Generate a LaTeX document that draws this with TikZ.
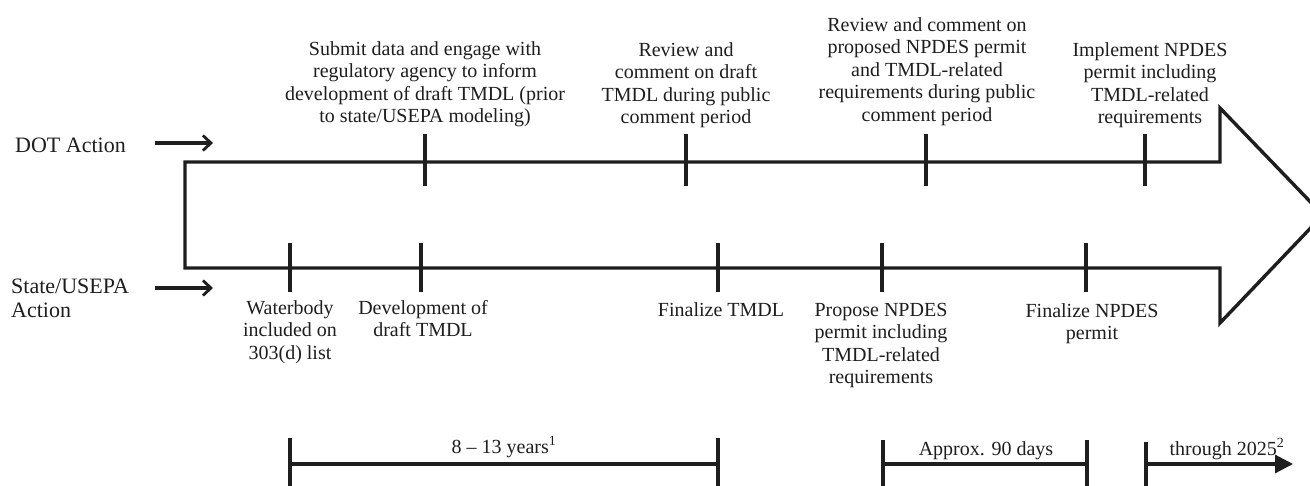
\documentclass[tikz,border=0pt]{standalone}
\usepackage{fontspec}
\setmainfont{Liberation Serif}
\usetikzlibrary{arrows.meta}
\definecolor{ink}{HTML}{1E1E1E}
\begin{document}
\begin{tikzpicture}[x=1pt,y=-1pt,
  lbl/.style={align=center, inner sep=0pt, text=ink, font=\fontsize{20}{22.5}\selectfont},
  side/.style={align=left, inner sep=0pt, text=ink, font=\fontsize{22}{23.5}\selectfont},
  tickline/.style={line width=3.2pt, draw=ink},
  frame/.style={line width=3.4pt, draw=ink, line join=miter},
  lead/.style={line width=3.2pt, draw=ink, -{Straight Barb[length=8pt,width=15pt,line width=2.8pt]}},
  spanline/.style={line width=3.2pt, draw=ink},
  spanarrow/.style={line width=3.2pt, draw=ink, -{Triangle[length=18pt,width=18pt]}},
]
\useasboundingbox (0,0) rectangle (1310,485);
\fill[white] (0,0) rectangle (1310,485);

% big arrow outline
\draw[frame] (185,162) -- (1220,162) -- (1220,108) -- (1323,215) -- (1220,323) -- (1220,268) -- (185,268) -- cycle;

% side labels and lead arrows
\node[side, anchor=base west] (dot) at (15,152) {DOT Action};
\node[side, anchor=north west] (state) at (11,279) {State/USEPA\\Action};
\coordinate (dotS) at (155,143);
\coordinate (dotE) at (213,143);
\coordinate (stS) at (155,288);
\coordinate (stE) at (213,288);
\draw[lead] (dotS) -- (dotE);
\draw[lead] (stS) -- (stE);

% top (DOT) ticks
\foreach \n/\x in {a/425,b/686,c/926,d/1145}{
  \coordinate (tt\n) at (\x,134);
  \coordinate (tb\n) at (\x,186);
  \draw[tickline] (tt\n) -- (tb\n);
}
% bottom (State) ticks
\foreach \n/\x in {a/290,b/421,c/718,d/882,e/1086}{
  \coordinate (bt\n) at (\x,243);
  \coordinate (bb\n) at (\x,292);
  \draw[tickline] (bt\n) -- (bb\n);
}

% top labels
\node[lbl, anchor=north] (d1) at (425,41) {Submit data and engage with\\regulatory agency to inform\\development of draft TMDL (prior\\to state/USEPA modeling)};
\node[lbl, anchor=north] (d2) at (686,42) {Review and\\comment on draft\\TMDL during public\\comment period};
\node[lbl, anchor=north] (d3) at (927,17) {Review and comment on\\proposed NPDES permit\\and TMDL-related\\requirements during public\\comment period};
\node[lbl, anchor=north] (d4) at (1150,42) {Implement NPDES\\permit including\\TMDL-related\\requirements};

% bottom labels
\node[lbl, anchor=north] (s1) at (290,300) {Waterbody\\included on\\303(d) list};
\node[lbl, anchor=north] (s2) at (423,300) {Development of\\draft TMDL};
\node[lbl, anchor=north] (s3) at (721,302) {Finalize TMDL};
\node[lbl, anchor=north] (s4) at (881,303) {Propose NPDES\\permit including\\TMDL-related\\requirements};
\node[lbl, anchor=north] (s5) at (1092,303) {Finalize NPDES\\permit};

% duration bars
\foreach \n/\x/\y in {a/290/438,b/718/438,c/883/440,d/1087/440,e/1146/442}{
  \coordinate (pt\n) at (\x,\y);
  \coordinate (pb\n) at (\x,487);
  \draw[tickline] (pt\n) -- (pb\n);
}
\coordinate (ha) at (290,464);
\coordinate (hb) at (718,464);
\coordinate (hc) at (883,464);
\coordinate (hd) at (1087,464);
\coordinate (he) at (1146,464);
\coordinate (hf) at (1293,464);
\draw[spanline] (ha) -- (hb);
\draw[spanline] (hc) -- (hd);
\draw[spanarrow] (he) -- (hf);

\node[lbl, anchor=base] (y1) at (504,453) {8 -- 13 years\textsuperscript{1}};
\node[lbl, anchor=base] (y2) at (986,455) {Approx. 90 days};
\node[lbl, anchor=base] (y3) at (1227,455) {through 2025\textsuperscript{2}};
\end{tikzpicture}
\end{document}
